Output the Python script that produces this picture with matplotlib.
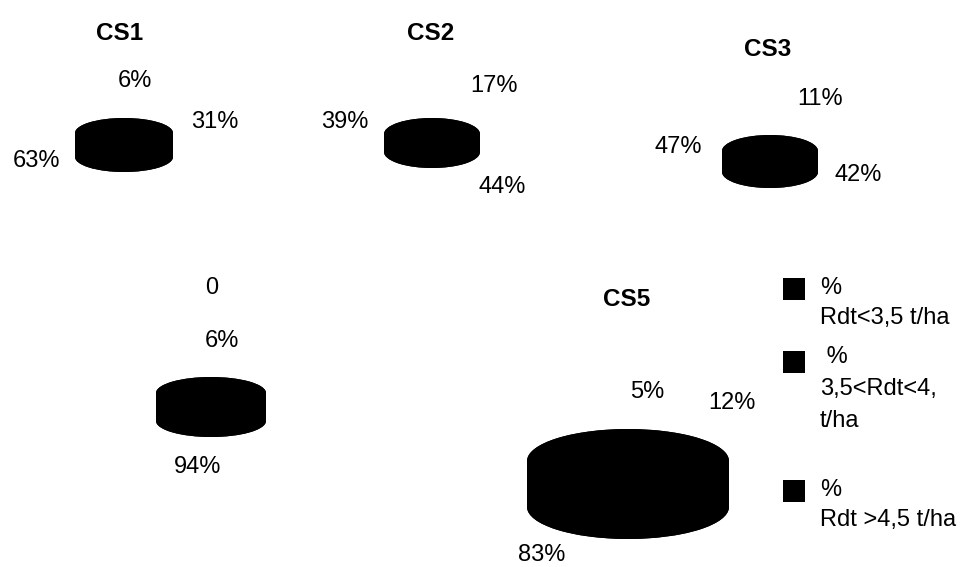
import matplotlib
matplotlib.use("Agg")
import matplotlib.pyplot as plt
from matplotlib.patches import Rectangle, Ellipse

plt.rcParams['font.family'] = ['Liberation Sans', 'DejaVu Sans']

W, H = 966, 567

# Share of plots per yield class for each cropping system
titles = ["CS1", "CS2", "CS3", "0", "CS5"]
cs1 = [63, 31, 6]
cs2 = [39, 44, 17]
cs3 = [47, 42, 11]
cs4 = [94, 0, 6]
cs5 = [83, 12, 5]
series = [cs1, cs2, cs3, cs4, cs5]
legend_labels = ["%\nRdt<3,5 t/ha", " %\n3,5<Rdt<4,\nt/ha", "%\nRdt >4,5 t/ha"]

# Pie geometry in pixels: centre x, half width, top-face centre y, half height, depth
geom = [
    (124, 49, 133, 15, 24),
    (432, 48, 134, 16, 18),
    (770, 48, 151, 16, 21),
    (211, 55, 393, 16, 28),
    (628, 101, 461, 32, 46),
]
title_pos = [(120, 34), (431, 34), (768, 49), (212, 288), (627, 300)]
# Percentage label positions per pie, in the same order as the values
label_pos = [
    [(37, 161), (215, 122), (135, 81)],
    [(345, 122), (502, 187), (494, 86)],
    [(678, 147), (858, 175), (820, 99)],
    [(198, 467), None, (222, 341)],
    [(542, 555), (732, 403), (647, 392)],
]

fig = plt.figure(figsize=(W / 100, H / 100), dpi=100)
fig.patch.set_facecolor("white")


def fx(x):
    return x / W


def fy(y):
    return 1 - y / H


for vals, (cx, rx, cy, ry, depth) in zip(series, geom):
    t = depth / ry
    ax = fig.add_axes([fx(cx - rx), fy(cy + depth + ry), 2 * rx / W, (2 * ry + depth) / H])
    shown = [v for v in vals if v > 0]
    blk = ["black"] * len(shown)
    wp = dict(edgecolor="none", linewidth=0)
    # lower face, side wall, then the top face of the disc
    ax.add_patch(Ellipse((0, -t), 2, 2, facecolor="black", edgecolor="none"))
    ax.pie(shown, colors=blk, radius=1, center=(0, -t), startangle=90,
           counterclock=False, wedgeprops=wp)
    ax.add_patch(Rectangle((-1, -t), 2, t, facecolor="black", edgecolor="none"))
    ax.add_patch(Ellipse((0, 0), 2, 2, facecolor="black", edgecolor="none"))
    ax.pie(shown, colors=blk, radius=1, center=(0, 0), startangle=90,
           counterclock=False, wedgeprops=wp)
    ax.set_aspect("auto")
    ax.set_xlim(-1.0, 1.0)
    ax.set_ylim(-1 - t, 1)
    ax.axis("off")

for name, (x, y) in zip(titles, title_pos):
    if name == "0":
        fig.text(fx(x), fy(y), name, ha="center", va="center", fontsize=17)
    else:
        fig.text(fx(x), fy(y), name, ha="center", va="center", fontsize=17.5,
                 fontweight="bold")

for vals, poss in zip(series, label_pos):
    for v, p in zip(vals, poss):
        if p is None:
            continue
        fig.text(fx(p[0]), fy(p[1]), f"{v}%", ha="center", va="center", fontsize=17)

# Legend: black keys with captions, one text per caption line
key_centre = [289, 362, 491]
line_centres = [[288, 318], [357, 389, 421], [490, 520]]
for lab, kc, lines in zip(legend_labels, key_centre, line_centres):
    fig.patches.append(Rectangle((fx(783), fy(kc + 11)), 22 / W, 22 / H,
                                 transform=fig.transFigure, facecolor="black",
                                 edgecolor="none"))
    for part, yc in zip(lab.split("\n"), lines):
        fig.text(fx(820), fy(yc), part, ha="left", va="center", fontsize=17)

fig.savefig("out.png", dpi=100, facecolor="white")
